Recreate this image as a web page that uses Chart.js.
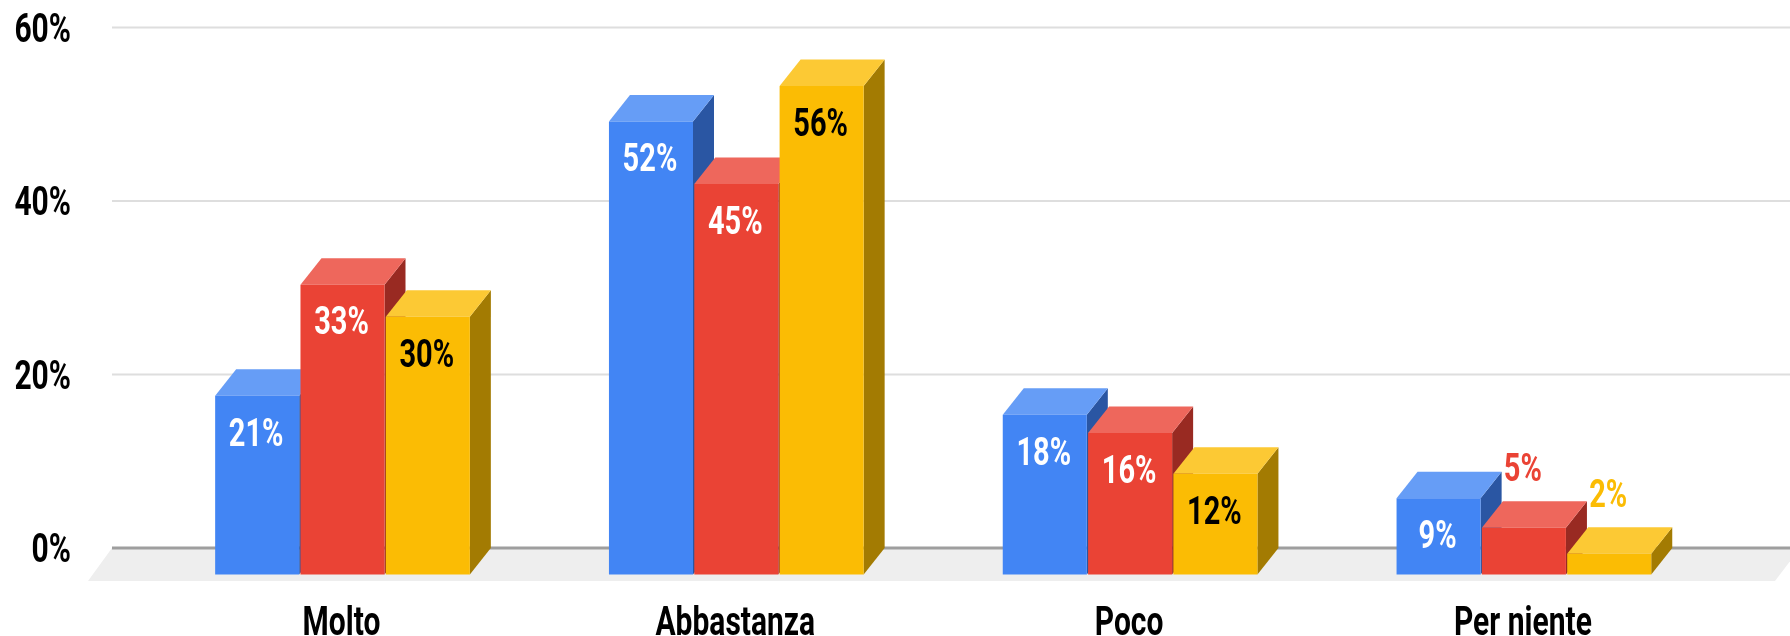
<!DOCTYPE html>
<html>
<head>
<meta charset="utf-8">
<style>
    html, body { margin: 0; padding: 0; background: #fff; }
    #wrap { width: 1790px; height: 636px; }
    /* the reference is a slightly soft upscaled picture */
    #chart { filter: blur(0.6px); }
</style>
<script src="https://cdn.jsdelivr.net/npm/chart.js@4/dist/chart.umd.min.js"></script>
</head>
<body>
<div id="wrap"><canvas id="chart"></canvas></div>
<script>
// Data (heights, labels show them rounded)
const categories = ['Molto', 'Abbastanza', 'Poco', 'Per niente'];
const seriesA = [20.6, 52.2, 18.4, 8.8];
const seriesB = [33.4, 45, 16.3, 5.4];
const seriesC = [29.7, 56.3, 11.6, 2.4];
const yTicks = [0, 20, 40, 60];

// Colours per series
const frontColors = ['#4285F4', '#EA4335', '#FBBC04'];
const topColors = ['#669DF6', '#EE675C', '#FCC934'];
const sideColors = ['#2A56A3', '#992A22', '#A37B02'];
const labelColors = ['#FFFFFF', '#FFFFFF', '#000000'];

// 3D look: the scales describe the back plane, the front face is shifted by this
const depthX = 21;
const depthY = 26.5;
const textStretch = 1.35;

function stretchedText(ctx, text, x, y, align, color, size) {
    ctx.save();
    ctx.translate(x, y);
    ctx.scale(1, textStretch);
    ctx.font = 'bold ' + size + 'px Roboto';
    ctx.textAlign = align;
    ctx.textBaseline = 'middle';
    ctx.fillStyle = color;
    ctx.fillText(text, 0, 0);
    ctx.restore();
}

function poly(ctx, color, points) {
    ctx.fillStyle = color;
    ctx.beginPath();
    points.forEach((p, i) => i ? ctx.lineTo(p[0], p[1]) : ctx.moveTo(p[0], p[1]));
    ctx.closePath();
    ctx.fill();
}

function drawFloor(chart) {
    const y0 = chart.scales.y.getPixelForValue(0);
    poly(chart.ctx, '#EEEEEE', [[112, y0], [1800, y0], [1775, y0 + 33], [88, y0 + 33]]);
}

function drawGrid(chart) {
    const ctx = chart.ctx;
    const yScale = chart.scales.y;
    yScale.ticks.forEach((tick) => {
        const y = yScale.getPixelForValue(tick.value);
        ctx.strokeStyle = tick.value === 0 ? '#9E9E9E' : '#DEDEDE';
        ctx.lineWidth = tick.value === 0 ? 3 : 2;
        ctx.beginPath();
        ctx.moveTo(112, y);
        ctx.lineTo(chart.width, y);
        ctx.stroke();
    });
}

function drawBars(chart) {
    const ctx = chart.ctx;
    chart.data.datasets.forEach((dataset, i) => {
        const meta = chart.getDatasetMeta(i);
        meta.data.forEach((bar) => {
            const left = bar.x - bar.width / 2;
            const right = bar.x + bar.width / 2;
            poly(ctx, sideColors[i], [
                [right - depthX, bar.y + depthY], [right, bar.y],
                [right, bar.base], [right - depthX, bar.base + depthY]
            ]);
            poly(ctx, topColors[i], [
                [left - depthX, bar.y + depthY], [right - depthX, bar.y + depthY],
                [right, bar.y], [left, bar.y]
            ]);
            ctx.save();
            ctx.translate(-depthX, depthY);
            bar.draw(ctx);
            ctx.restore();
        });
    });
}

function drawValueLabels(chart) {
    const ctx = chart.ctx;
    chart.data.datasets.forEach((dataset, i) => {
        chart.getDatasetMeta(i).data.forEach((bar, j) => {
            const value = dataset.data[j];
            const text = Math.round(value) + '%';
            const x = bar.x - depthX - 1;
            if (value < 6) {
                // too short, the label goes above the bar in the series colour
                stretchedText(ctx, text, x, bar.y - 30, 'center', frontColors[i], 29);
            } else {
                stretchedText(ctx, text, x, bar.y + depthY + 40, 'center', labelColors[i], 29);
            }
        });
    });
}

function drawAxisText(chart) {
    const ctx = chart.ctx;
    chart.scales.y.ticks.forEach((tick) => {
        stretchedText(ctx, tick.label, 71, chart.scales.y.getPixelForValue(tick.value) + 4, 'right', '#000000', 30);
    });
    categories.forEach((name, i) => {
        stretchedText(ctx, name, chart.scales.x.getPixelForValue(i) - depthX - 1, 625, 'center', '#000000', 30);
    });
}

const bars3d = {
    id: 'bars3d',
    beforeDatasetsDraw(chart) {
        drawFloor(chart);
        drawGrid(chart);
        drawBars(chart);
        drawValueLabels(chart);
        drawAxisText(chart);
        return false;
    }
};

new Chart(document.getElementById('chart').getContext('2d'), {
    type: 'bar',
    plugins: [bars3d],
    data: {
        labels: categories,
        datasets: [seriesA, seriesB, seriesC].map((values, i) => ({
            label: 'Serie ' + (i + 1),
            data: values,
            backgroundColor: frontColors[i],
            borderWidth: 0,
            categoryPercentage: 0.65,
            barPercentage: 0.985
        }))
    },
    options: {
        responsive: true,
        maintainAspectRatio: false,
        animation: false,
        layout: { padding: { top: 27.4, right: 48.2 } },
        plugins: {
            legend: { display: false },
            tooltip: { enabled: false }
        },
        scales: {
            x: {
                grid: { display: false },
                border: { display: false },
                ticks: { display: false },
                afterFit: (scale) => { scale.height = 88; }
            },
            y: {
                min: 0,
                max: 60,
                grid: { display: false },
                border: { display: false },
                afterBuildTicks: (scale) => { scale.ticks = yTicks.map((v) => ({ value: v })); },
                ticks: { display: false, callback: (v) => v + '%' },
                afterFit: (scale) => { scale.width = 166.6; }
            }
        }
    }
});
</script>
</body>
</html>
